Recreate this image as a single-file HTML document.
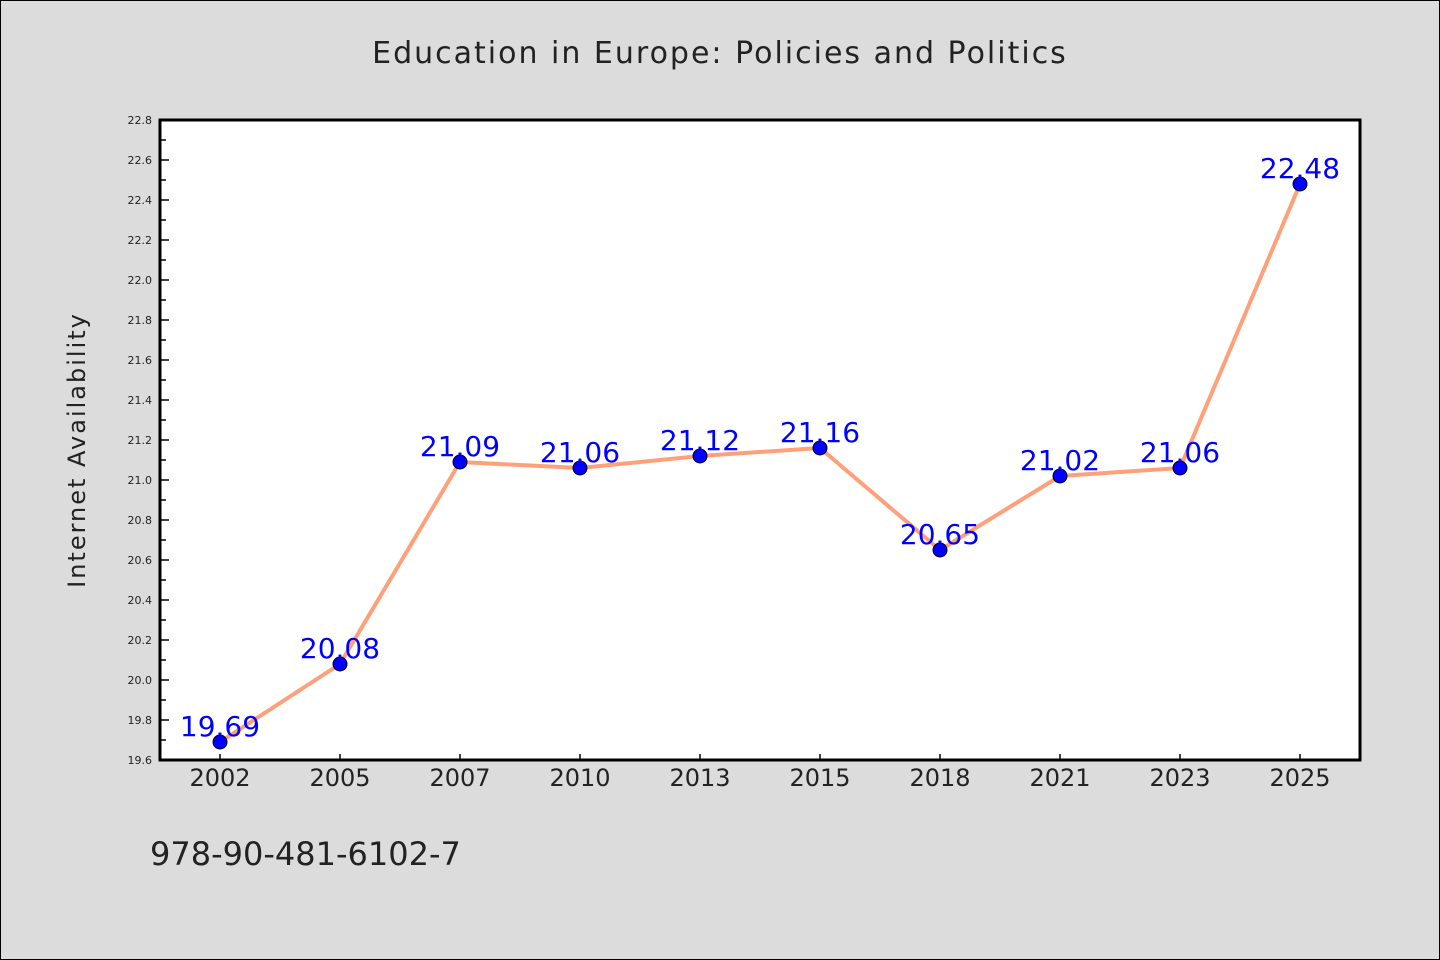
<!DOCTYPE html>
<html><head><meta charset="utf-8"><style>
html,body{margin:0;padding:0;background:#dcdcdc;}
svg{display:block;}
text{font-family:"WenQuanYi Zen Hei","DejaVu Sans",sans-serif;}
</style></head><body>
<svg id="chart" width="1440" height="960" viewBox="0 0 1440 960">
<rect x="0.5" y="0.5" width="1439" height="959" fill="#dcdcdc" stroke="#000"/>
<text x="720" y="63" text-anchor="middle" font-size="30" fill="#222" letter-spacing="2">Education in Europe: Policies and Politics</text>
<rect x="160" y="120" width="1200" height="640" fill="#fff"/>
<g id="yaxis"></g>
<g id="xaxis"></g>
<g id="series"></g>
<rect x="160" y="120" width="1200" height="640" fill="none" stroke="#000" stroke-width="3"/>
<text transform="translate(85,450) rotate(-90)" text-anchor="middle" font-size="24" fill="#222" letter-spacing="2">Internet Availability</text>
<text x="150" y="865" font-size="32" fill="#222">978-90-481-6102-7</text>
</svg>
<script>
const categories=["2002","2005","2007","2010","2013","2015","2018","2021","2023","2025"];
const values=[19.69,20.08,21.09,21.06,21.12,21.16,20.65,21.02,21.06,22.48];
const yTicks=[19.6,19.8,20.0,20.2,20.4,20.6,20.8,21.0,21.2,21.4,21.6,21.8,22.0,22.2,22.4,22.6,22.8];
const yMin=19.6,yMax=22.8;
const NS="http://www.w3.org/2000/svg";
const L=160,R=1360,T=120,B=760;
function y(v){return B-(v-yMin)/(yMax-yMin)*(B-T);}
function x(i){return L+(i+0.5)*(R-L)/categories.length;}
function mk(tag,attrs,parent){const e=document.createElementNS(NS,tag);for(const k in attrs)e.setAttribute(k,attrs[k]);parent.appendChild(e);return e;}
const ya=document.getElementById('yaxis'),xa=document.getElementById('xaxis'),sg=document.getElementById('series');
yTicks.forEach((t,i)=>{
  const yy=y(t);
  const ln=mk('line',{x1:L,x2:L+9,y1:yy,y2:yy,stroke:'#000','stroke-width':1.5},ya);
  
  
  const tx=mk('text',{x:L-8,y:yy+4,'text-anchor':'end','font-size':11,fill:'#222'},ya);
  tx.textContent=t.toFixed(1);
  
  
  if(i<yTicks.length-1){
    const ym=y(t+0.1);
    const mn=mk('line',{x1:L,x2:L+6,y1:ym,y2:ym,stroke:'#000','stroke-width':1.5},ya);
    
    
  }
});
categories.forEach((c,i)=>{
  const xx=x(i);
  const ln=mk('line',{x1:xx,x2:xx,y1:B,y2:B-6,stroke:'#000','stroke-width':1.5},xa);
  
  
  const tx=mk('text',{x:xx,y:B+26,'text-anchor':'middle','font-size':24,fill:'#222'},xa);
  tx.textContent=c;
  
  
});
const pts=values.map((v,i)=>x(i)+','+y(v)).join(' ');
const pl=mk('polyline',{points:pts,fill:'none',stroke:'#ffa07a','stroke-width':4,'stroke-linejoin':'round'},sg);


values.forEach((v,i)=>{
  const c=mk('circle',{cx:x(i),cy:y(v),r:7,fill:'#0000ff',stroke:'#000','stroke-width':1},sg);
  
  
});
values.forEach((v,i)=>{
  const t=mk('text',{x:x(i),y:y(v)-6,'text-anchor':'middle','font-size':28,fill:'#0000ff'},sg);
  t.textContent=v.toFixed(2);
  
  
});
</script>
</body></html>
